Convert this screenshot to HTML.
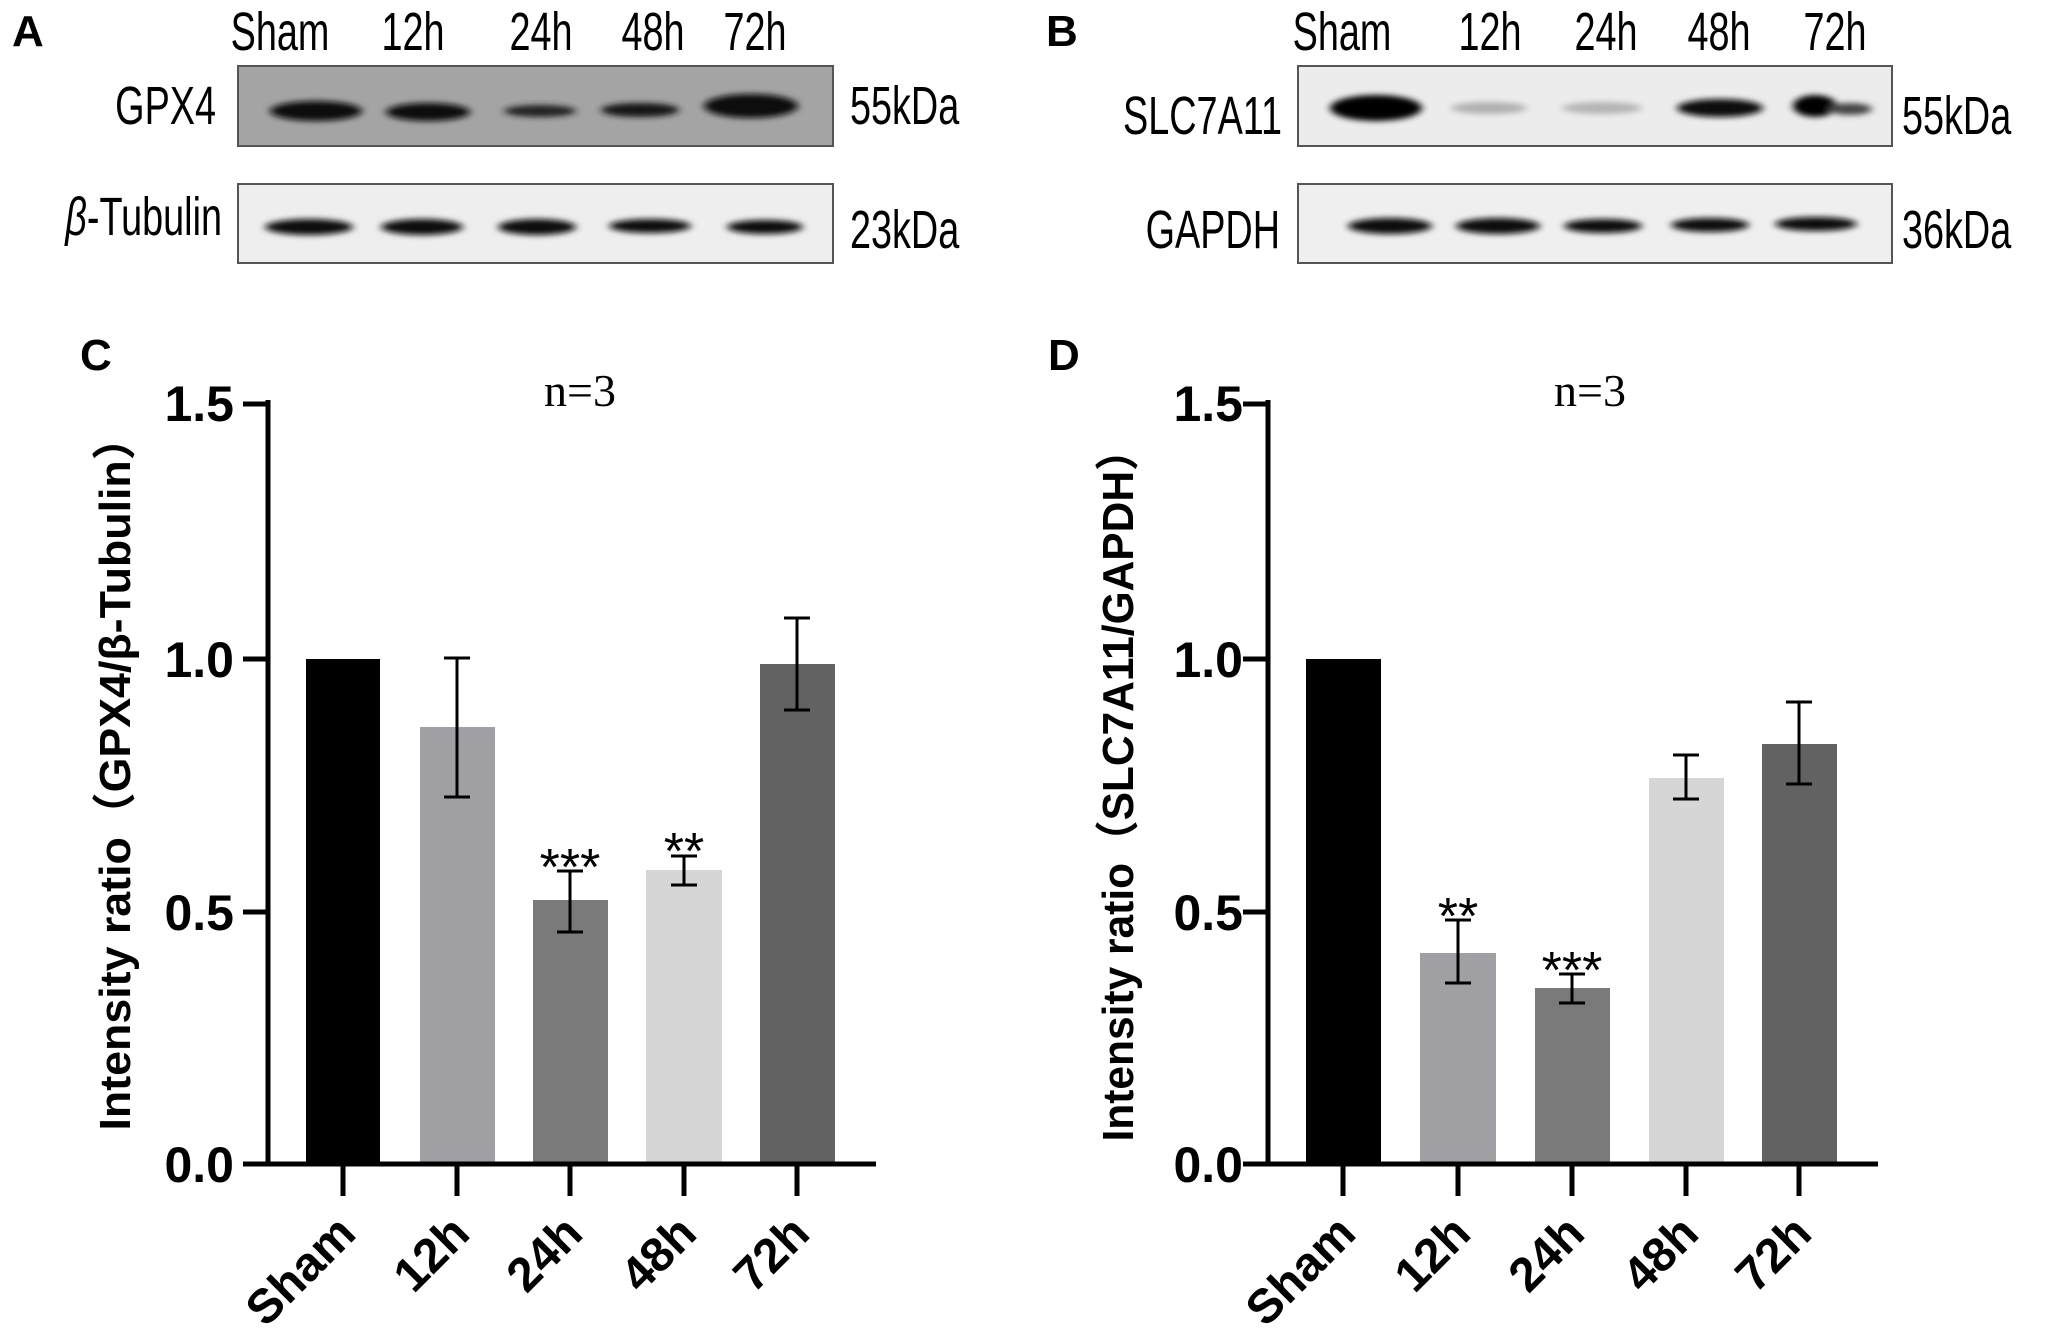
<!DOCTYPE html>
<html><head><meta charset="utf-8"><style>
html,body{margin:0;padding:0;background:#fff;}
svg{display:block;}
</style></head><body>
<svg width="2050" height="1342" viewBox="0 0 2050 1342" xmlns="http://www.w3.org/2000/svg">
<defs>
<filter id="b1" x="-30%" y="-100%" width="160%" height="300%"><feGaussianBlur stdDeviation="4 3"/></filter>
</defs>
<rect width="2050" height="1342" fill="#fff"/>
<g font-family="Liberation Sans, sans-serif">
<!-- Panel A -->
<text x="12" y="46" font-size="44" font-weight="bold">A</text>
<g font-size="54">
<text x="280" y="50" text-anchor="middle" transform="translate(280,0) scale(0.7,1) translate(-280,0)">Sham</text>
<text x="413" y="50" text-anchor="middle" transform="translate(413,0) scale(0.7,1) translate(-413,0)">12h</text>
<text x="541" y="50" text-anchor="middle" transform="translate(541,0) scale(0.7,1) translate(-541,0)">24h</text>
<text x="653" y="50" text-anchor="middle" transform="translate(653,0) scale(0.7,1) translate(-653,0)">48h</text>
<text x="755" y="50" text-anchor="middle" transform="translate(755,0) scale(0.7,1) translate(-755,0)">72h</text>
<text x="216" y="124" text-anchor="end" transform="translate(216,0) scale(0.7,1) translate(-216,0)">GPX4</text>
<text x="222" y="235" text-anchor="end" transform="translate(222,0) scale(0.7,1) translate(-222,0)"><tspan font-style="italic">β</tspan>-Tubulin</text>
<text x="850" y="124" transform="translate(850,0) scale(0.7,1) translate(-850,0)">55kDa</text>
<text x="850" y="248" transform="translate(850,0) scale(0.7,1) translate(-850,0)">23kDa</text>
</g>
<rect x="238" y="66" width="595" height="80" fill="#a4a4a4" stroke="#555" stroke-width="2"/>
<rect x="238" y="184" width="595" height="79" fill="#eeeeee" stroke="#555" stroke-width="2"/>
<g filter="url(#b1)" fill="#0a0a0a">
<ellipse cx="316" cy="111" rx="46" ry="10"/>
<ellipse cx="428" cy="112" rx="42" ry="9"/>
<ellipse cx="540" cy="111" rx="36" ry="6" fill="#222"/>
<ellipse cx="640" cy="110" rx="39" ry="7" fill="#151515"/>
<ellipse cx="751" cy="106" rx="47" ry="12"/>
<ellipse cx="309" cy="227" rx="44" ry="8"/>
<ellipse cx="422" cy="227" rx="41" ry="8"/>
<ellipse cx="537" cy="227" rx="39" ry="8"/>
<ellipse cx="650" cy="226" rx="41" ry="7"/>
<ellipse cx="765" cy="227" rx="38" ry="7"/>
</g>
<!-- Panel B -->
<text x="1046" y="46" font-size="44" font-weight="bold">B</text>
<g font-size="54">
<text x="1342" y="50" text-anchor="middle" transform="translate(1342,0) scale(0.7,1) translate(-1342,0)">Sham</text>
<text x="1490" y="50" text-anchor="middle" transform="translate(1490,0) scale(0.7,1) translate(-1490,0)">12h</text>
<text x="1606" y="50" text-anchor="middle" transform="translate(1606,0) scale(0.7,1) translate(-1606,0)">24h</text>
<text x="1719" y="50" text-anchor="middle" transform="translate(1719,0) scale(0.7,1) translate(-1719,0)">48h</text>
<text x="1835" y="50" text-anchor="middle" transform="translate(1835,0) scale(0.7,1) translate(-1835,0)">72h</text>
<text x="1282" y="134" text-anchor="end" transform="translate(1282,0) scale(0.7,1) translate(-1282,0)">SLC7A11</text>
<text x="1280" y="248" text-anchor="end" transform="translate(1280,0) scale(0.7,1) translate(-1280,0)">GAPDH</text>
<text x="1902" y="134" transform="translate(1902,0) scale(0.7,1) translate(-1902,0)">55kDa</text>
<text x="1902" y="248" transform="translate(1902,0) scale(0.7,1) translate(-1902,0)">36kDa</text>
</g>
<rect x="1298" y="66" width="594" height="80" fill="#ececec" stroke="#555" stroke-width="2"/>
<rect x="1298" y="184" width="594" height="79" fill="#efefef" stroke="#555" stroke-width="2"/>
<g filter="url(#b1)">
<ellipse cx="1376" cy="108" rx="46" ry="13" fill="#000"/>
<ellipse cx="1489" cy="108" rx="38" ry="6" fill="#b0b0b0"/>
<ellipse cx="1602" cy="108" rx="40" ry="6" fill="#b4b4b4"/>
<ellipse cx="1720" cy="108" rx="43" ry="9" fill="#111"/>
<ellipse cx="1815" cy="106" rx="22" ry="11" fill="#000"/>
<ellipse cx="1850" cy="109" rx="22" ry="6" fill="#444"/>
<ellipse cx="1390" cy="226" rx="42" ry="8" fill="#080808"/>
<ellipse cx="1498" cy="226" rx="42" ry="8" fill="#080808"/>
<ellipse cx="1603" cy="226" rx="39" ry="7" fill="#0a0a0a"/>
<ellipse cx="1710" cy="225" rx="39" ry="7" fill="#0a0a0a"/>
<ellipse cx="1816" cy="224" rx="41" ry="7" fill="#0a0a0a"/>
</g>

<!-- Panel C -->
<text x="80" y="370" font-size="44" font-weight="bold">C</text>
<text x="580" y="406" font-size="46" text-anchor="middle" font-family="Liberation Serif, serif">n=3</text>
<text transform="translate(130,773) rotate(-90)" font-size="44" font-weight="bold" text-anchor="middle" textLength="715" lengthAdjust="spacingAndGlyphs" font-family="Liberation Sans, Noto Sans CJK SC, sans-serif">Intensity ratio（GPX4/β-Tubulin）</text>
<g font-size="50" font-weight="bold" text-anchor="end">
<text x="234" y="421">1.5</text><text x="234" y="677">1.0</text><text x="234" y="930">0.5</text><text x="234" y="1182">0.0</text>
</g>
<g>
<rect x="306" y="659" width="74" height="505" fill="#000"/>
<rect x="420" y="727" width="75" height="437" fill="#a0a0a4"/>
<rect x="533" y="900" width="75" height="264" fill="#7a7a7a"/>
<rect x="646" y="870" width="76" height="294" fill="#d6d6d6"/>
<rect x="760" y="664" width="75" height="500" fill="#626262"/>
</g>
<g stroke="#000" stroke-width="5" fill="none">
<line x1="268" y1="400" x2="268" y2="1166"/>
<line x1="266" y1="1164" x2="876" y2="1164"/>
<line x1="243" y1="404" x2="268" y2="404"/>
<line x1="243" y1="659" x2="268" y2="659"/>
<line x1="243" y1="912" x2="268" y2="912"/>
<line x1="243" y1="1164" x2="268" y2="1164"/>
<line x1="343" y1="1164" x2="343" y2="1196"/>
<line x1="457" y1="1164" x2="457" y2="1196"/>
<line x1="570" y1="1164" x2="570" y2="1196"/>
<line x1="684" y1="1164" x2="684" y2="1196"/>
<line x1="797" y1="1164" x2="797" y2="1196"/>
</g>
<g stroke="#000" stroke-width="3">
<line x1="457" y1="658" x2="457" y2="797"/><line x1="444" y1="658" x2="470" y2="658"/><line x1="444" y1="797" x2="470" y2="797"/>
<line x1="570" y1="871" x2="570" y2="932"/><line x1="557" y1="871" x2="583" y2="871"/><line x1="557" y1="932" x2="583" y2="932"/>
<line x1="684" y1="856" x2="684" y2="885"/><line x1="671" y1="856" x2="697" y2="856"/><line x1="671" y1="885" x2="697" y2="885"/>
<line x1="797" y1="618" x2="797" y2="710"/><line x1="784" y1="618" x2="810" y2="618"/><line x1="784" y1="710" x2="810" y2="710"/>
</g>
<g font-size="52" text-anchor="middle">
<text x="570" y="885">***</text><text x="684" y="869">**</text>
</g>
<g font-size="48" font-weight="bold" text-anchor="end">
<text transform="translate(358,1236) rotate(-45)">Sham</text>
<text transform="translate(472,1236) rotate(-45)">12h</text>
<text transform="translate(585,1236) rotate(-45)">24h</text>
<text transform="translate(699,1236) rotate(-45)">48h</text>
<text transform="translate(812,1236) rotate(-45)">72h</text>
</g>

<!-- Panel D -->
<text x="1048" y="370" font-size="44" font-weight="bold">D</text>
<text x="1590" y="406" font-size="46" text-anchor="middle" font-family="Liberation Serif, serif">n=3</text>
<text transform="translate(1133,785) rotate(-90)" font-size="44" font-weight="bold" text-anchor="middle" textLength="713" lengthAdjust="spacingAndGlyphs" font-family="Liberation Sans, Noto Sans CJK SC, sans-serif">Intensity ratio（SLC7A11/GAPDH）</text>
<g font-size="50" font-weight="bold" text-anchor="end">
<text x="1243" y="421">1.5</text><text x="1243" y="677">1.0</text><text x="1243" y="930">0.5</text><text x="1243" y="1182">0.0</text>
</g>
<g>
<rect x="1306" y="659" width="75" height="505" fill="#000"/>
<rect x="1420" y="953" width="76" height="211" fill="#a0a0a4"/>
<rect x="1535" y="988" width="75" height="176" fill="#7a7a7a"/>
<rect x="1649" y="778" width="75" height="386" fill="#d6d6d6"/>
<rect x="1762" y="744" width="75" height="420" fill="#626262"/>
</g>
<g stroke="#000" stroke-width="5" fill="none">
<line x1="1268" y1="400" x2="1268" y2="1166"/>
<line x1="1266" y1="1164" x2="1878" y2="1164"/>
<line x1="1243" y1="404" x2="1268" y2="404"/>
<line x1="1243" y1="659" x2="1268" y2="659"/>
<line x1="1243" y1="912" x2="1268" y2="912"/>
<line x1="1243" y1="1164" x2="1268" y2="1164"/>
<line x1="1343" y1="1164" x2="1343" y2="1196"/>
<line x1="1458" y1="1164" x2="1458" y2="1196"/>
<line x1="1572" y1="1164" x2="1572" y2="1196"/>
<line x1="1686" y1="1164" x2="1686" y2="1196"/>
<line x1="1799" y1="1164" x2="1799" y2="1196"/>
</g>
<g stroke="#000" stroke-width="3">
<line x1="1458" y1="920" x2="1458" y2="983"/><line x1="1445" y1="920" x2="1471" y2="920"/><line x1="1445" y1="983" x2="1471" y2="983"/>
<line x1="1572" y1="974" x2="1572" y2="1003"/><line x1="1559" y1="974" x2="1585" y2="974"/><line x1="1559" y1="1003" x2="1585" y2="1003"/>
<line x1="1686" y1="755" x2="1686" y2="799"/><line x1="1673" y1="755" x2="1699" y2="755"/><line x1="1673" y1="799" x2="1699" y2="799"/>
<line x1="1799" y1="702" x2="1799" y2="784"/><line x1="1786" y1="702" x2="1812" y2="702"/><line x1="1786" y1="784" x2="1812" y2="784"/>
</g>
<g font-size="52" text-anchor="middle">
<text x="1458" y="934">**</text><text x="1572" y="988">***</text>
</g>
<g font-size="48" font-weight="bold" text-anchor="end">
<text transform="translate(1358,1236) rotate(-45)">Sham</text>
<text transform="translate(1473,1236) rotate(-45)">12h</text>
<text transform="translate(1587,1236) rotate(-45)">24h</text>
<text transform="translate(1701,1236) rotate(-45)">48h</text>
<text transform="translate(1814,1236) rotate(-45)">72h</text>
</g>
</g>
</svg>
</body></html>
